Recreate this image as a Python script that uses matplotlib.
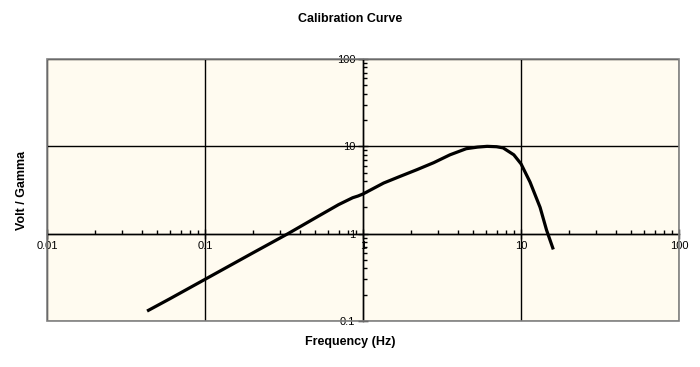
import matplotlib.pyplot as plt
from matplotlib.patches import Rectangle
from matplotlib.ticker import LogLocator, NullFormatter, FixedFormatter, FixedLocator

plt.rcParams['font.family'] = ['Liberation Sans', 'DejaVu Sans']

# calibration curve values
freq = [0.043, 0.06, 0.1, 0.15, 0.2, 0.335, 0.51, 0.7, 0.86, 0.93, 1.0,
        1.35, 1.7, 2.19, 2.8, 3.55, 4.5, 5.3, 6.1, 7.0, 7.7, 9.0, 10.0,
        11.4, 13.2, 14.5, 16.0]
volt = [0.13, 0.18, 0.30, 0.45, 0.60, 1.0, 1.55, 2.15, 2.58, 2.7, 2.85,
        3.8, 4.5, 5.4, 6.5, 8.0, 9.4, 9.8, 10.0, 9.9, 9.6, 8.0, 6.3,
        3.9, 2.0, 1.1, 0.66]

x_ticks = [0.01, 0.1, 1, 10, 100]
x_labels = ['0.01', '0.1', '1', '10', '100']
y_ticks = [0.1, 1, 10, 100]
y_labels = ['0.1', '1', '10', '100']

fig = plt.figure(figsize=(7, 3.67), dpi=100)
ax = fig.add_axes([0.0671, 0.1253, 0.903, 0.7139])
ax.set_facecolor('#FFFBF0')

ax.plot(freq, volt, color='black', lw=2.3, solid_capstyle='butt', zorder=3)

ax.set_xscale('log')
ax.set_yscale('log')
ax.set_xlim(0.01, 100)
ax.set_ylim(0.1, 100)

ax.xaxis.set_major_locator(FixedLocator(x_ticks))
ax.xaxis.set_major_formatter(FixedFormatter(x_labels))
ax.yaxis.set_major_locator(FixedLocator(y_ticks))
ax.yaxis.set_major_formatter(FixedFormatter(y_labels))
ax.xaxis.set_minor_locator(LogLocator(base=10, subs=range(2, 10)))
ax.yaxis.set_minor_locator(LogLocator(base=10, subs=range(2, 10)))
ax.xaxis.set_minor_formatter(NullFormatter())
ax.yaxis.set_minor_formatter(NullFormatter())

# axes cross at (1, 1), grey frame round the plot area
ax.spines['left'].set_position(('data', 1))
ax.spines['bottom'].set_position(('data', 1))
ax.spines['left'].set_linewidth(1)
ax.spines['bottom'].set_linewidth(1)
ax.spines['top'].set_visible(False)
ax.spines['right'].set_visible(False)
ax.add_patch(Rectangle((0, 0), 1, 1, transform=ax.transAxes, fill=False,
                       edgecolor='#808080', lw=1.2, zorder=4, clip_on=False))

ax.grid(True, which='major', color='black', lw=1)
ax.tick_params(which='major', direction='inout', length=7, width=1,
               labelsize=8, pad=2, colors='black')
ax.tick_params(which='minor', direction='in', length=3, width=1)

fig.text(0.5, 0.948, 'Calibration Curve', ha='center', va='center',
         fontsize=9, fontweight='bold')
fig.text(0.5, 0.068, 'Frequency (Hz)', ha='center', va='center',
         fontsize=9, fontweight='bold')
fig.text(0.031, 0.482, 'Volt / Gamma', ha='center', va='center',
         rotation=90, fontsize=9, fontweight='bold')

fig.savefig('out.png', dpi=100, facecolor='white')
